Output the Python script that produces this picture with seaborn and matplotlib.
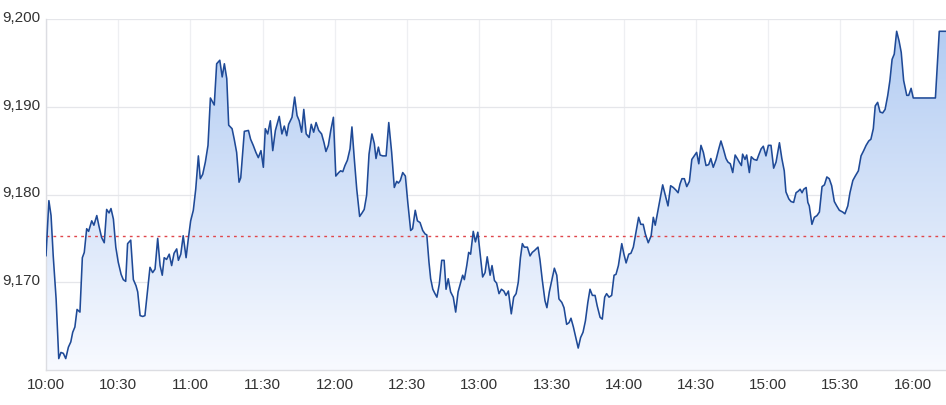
import numpy as np
import pandas as pd
import matplotlib
matplotlib.use("Agg")
import matplotlib.pyplot as plt
import seaborn as sns
from matplotlib.colors import LinearSegmentedColormap
from matplotlib.transforms import ScaledTranslation

# minutes after 10:00 and traded price
minutes = [
    0.0, 1.2, 2.1, 3.0, 4.2, 5.3, 6.2, 7.2, 8.2, 9.3, 10.3, 11.1, 12.0, 12.9, 14.1,
    15.1, 15.9, 16.9, 17.7, 19.0, 19.9, 21.1, 22.0, 23.1, 24.2, 25.2, 26.2, 27.0, 28.0,
    29.0, 30.0, 31.2, 32.1, 33.1, 33.9, 35.2, 36.3, 37.4, 38.1, 39.1, 40.2, 41.1, 42.3,
    43.2, 44.3, 45.3, 46.4, 47.4, 48.3, 49.1, 50.1, 51.2, 52.2, 53.2, 54.3, 55.0, 56.0,
    57.0, 58.2, 59.1, 60.1, 61.2, 62.2, 63.3, 64.1, 65.1, 66.2, 67.3, 68.3, 69.9, 70.9,
    72.2, 73.2, 74.1, 75.1, 75.9, 77.3, 78.2, 79.2, 80.2, 80.9, 82.4, 84.1, 85.0, 86.1,
    87.2, 88.2, 89.3, 90.3, 91.1, 92.1, 93.2, 94.2, 95.3, 96.9, 98.0, 99.0, 100.0, 100.8,
    102.2, 103.3, 104.3, 105.2, 106.2, 107.1, 108.1, 109.3, 110.2, 111.2, 112.2, 113.3,
    114.5, 115.5, 116.3, 117.3, 118.3, 119.4, 120.4, 121.6, 122.4, 123.3, 124.2, 125.2,
    126.3, 127.1, 128.1, 129.1, 130.3, 131.3, 132.2, 133.2, 134.2, 135.4, 136.4, 137.1,
    138.1, 138.8, 139.9, 141.3, 142.4, 143.6, 144.7, 145.7, 146.4, 147.2, 148.2, 149.3,
    150.3, 151.5, 152.3, 153.4, 154.3, 155.4, 156.5, 157.5, 158.2, 159.1, 159.8, 160.7,
    161.6, 162.4, 163.4, 164.4, 165.4, 166.2, 167.1, 168.1, 169.2, 170.2, 171.2, 172.1,
    173.1, 173.8, 174.8, 175.6, 176.4, 177.5, 178.4, 179.4, 180.3, 181.4, 182.4, 183.3,
    184.5, 185.3, 186.3, 187.2, 188.2, 189.2, 190.2, 191.1, 192.1, 193.3, 194.3, 195.3,
    196.2, 197.1, 197.9, 198.7, 200.0, 201.1, 202.0, 202.9, 204.4, 205.2, 206.2, 207.3,
    208.1, 209.1, 210.1, 211.2, 212.2, 213.1, 214.3, 215.2, 216.3, 217.3, 218.1, 219.1,
    220.1, 221.1, 222.1, 223.1, 224.1, 225.1, 226.0, 227.0, 228.1, 229.0, 230.2, 231.1,
    232.1, 232.9, 233.9, 235.0, 236.0, 236.8, 237.8, 239.2, 240.1, 241.0, 242.1, 243.0,
    244.0, 245.1, 246.2, 247.1, 248.1, 249.0, 250.2, 251.4, 252.3, 253.1, 254.1, 255.1,
    256.2, 257.3, 258.4, 259.5, 260.6, 261.7, 262.6, 263.4, 264.2, 265.2, 266.2, 267.3,
    268.3, 269.3, 270.3, 271.2, 272.1, 273.1, 274.2, 275.3, 276.2, 277.2, 278.4, 279.5,
    280.4, 281.4, 282.5, 283.3, 284.3, 285.3, 286.3, 287.2, 288.0, 288.9, 289.4, 290.4,
    291.1, 292.2, 293.0, 294.1, 295.3, 296.1, 297.1, 298.0, 299.1, 300.1, 301.2, 302.3,
    303.3, 304.7, 305.7, 306.7, 307.4, 308.6, 309.5, 310.6, 311.6, 312.6, 313.3, 314.1,
    314.8, 315.8, 316.5, 317.1, 318.2, 319.2, 320.3, 321.3, 322.4, 323.4, 324.4, 325.4,
    326.4, 327.5, 328.5, 329.6, 331.0, 331.9, 333.1, 334.0, 335.2, 336.2, 337.5, 338.6,
    339.7, 340.7, 341.8, 342.7, 343.7, 344.5, 345.5, 346.5, 347.6, 348.6, 349.7, 350.6,
    351.5, 352.4, 353.4, 354.4, 355.3, 356.3, 357.6, 358.4, 359.4, 360.3, 369.5, 371.1,
    373.9,
]
prices = [
    9173.0, 9179.3, 9177.6, 9173.0, 9168.1, 9161.3, 9162.0, 9161.9, 9161.3, 9162.6, 9163.2,
    9164.3, 9164.9, 9166.9, 9166.6, 9172.8, 9173.4, 9176.1, 9175.8, 9177.0, 9176.5, 9177.6,
    9176.4, 9175.1, 9174.5, 9178.3, 9177.9, 9178.4, 9177.2, 9174.0, 9172.3, 9170.9, 9170.3,
    9170.1, 9174.4, 9174.8, 9170.3, 9169.6, 9168.9, 9166.2, 9166.1, 9166.2, 9169.4, 9171.7,
    9171.1, 9171.5, 9175.0, 9171.9, 9170.8, 9172.8, 9172.6, 9173.2, 9171.9, 9173.3, 9173.8,
    9172.5, 9173.2, 9175.3, 9172.8, 9174.9, 9177.0, 9178.2, 9180.6, 9184.4, 9181.8, 9182.3,
    9183.7, 9185.6, 9191.0, 9190.2, 9194.9, 9195.3, 9193.4, 9194.9, 9193.2, 9187.9, 9187.5,
    9186.3, 9184.8, 9181.4, 9181.9, 9187.2, 9187.3, 9186.3, 9185.6, 9184.8, 9184.2, 9185.0,
    9183.1, 9187.5, 9186.9, 9188.4, 9185.0, 9187.3, 9188.9, 9186.9, 9187.8, 9186.7, 9188.0,
    9188.8, 9191.1, 9189.0, 9188.4, 9187.1, 9189.7, 9186.9, 9186.5, 9188.0, 9187.1, 9188.2,
    9187.3, 9186.9, 9185.9, 9184.9, 9185.6, 9187.3, 9188.8, 9182.1, 9182.5, 9182.7, 9182.6,
    9183.3, 9183.9, 9185.2, 9187.7, 9184.0, 9180.6, 9177.5, 9177.9, 9178.3, 9179.9, 9184.6,
    9186.9, 9185.8, 9184.1, 9185.4, 9184.5, 9184.4, 9184.4, 9188.2, 9184.8, 9180.8, 9181.5,
    9181.3, 9181.6, 9182.5, 9182.1, 9179.1, 9175.9, 9176.1, 9178.2, 9177.0, 9176.8, 9175.9,
    9175.5, 9175.4, 9172.3, 9170.4, 9169.2, 9168.7, 9168.3, 9169.8, 9172.5, 9172.5, 9169.2,
    9170.4, 9168.9, 9168.3, 9166.6, 9168.9, 9169.8, 9170.8, 9170.3, 9171.9, 9173.4, 9173.2,
    9175.8, 9174.6, 9175.7, 9173.4, 9170.6, 9171.1, 9172.9, 9170.8, 9171.9, 9170.2, 9169.9,
    9168.7, 9169.2, 9169.0, 9168.5, 9169.0, 9166.4, 9168.3, 9168.7, 9170.0, 9172.8, 9174.4,
    9174.0, 9174.0, 9173.0, 9173.4, 9173.6, 9174.0, 9172.6, 9170.2, 9167.9, 9167.1, 9168.9,
    9170.2, 9171.6, 9170.8, 9168.1, 9167.7, 9167.1, 9165.2, 9165.4, 9165.9, 9164.9, 9163.7,
    9162.5, 9163.7, 9164.3, 9165.6, 9167.7, 9169.2, 9168.5, 9168.5, 9167.3, 9166.0, 9165.8,
    9168.3, 9168.7, 9168.3, 9168.5, 9170.8, 9170.9, 9171.9, 9174.4, 9173.2, 9172.2, 9173.2,
    9173.3, 9174.0, 9175.7, 9177.4, 9176.6, 9176.6, 9175.5, 9174.5, 9175.3, 9177.4, 9176.5,
    9178.0, 9179.5, 9181.1, 9179.9, 9178.7, 9181.0, 9180.8, 9180.5, 9180.2, 9181.2, 9181.8,
    9181.8, 9180.9, 9181.5, 9184.0, 9184.4, 9184.8, 9183.5, 9185.6, 9184.8, 9183.3, 9183.4,
    9184.1, 9183.1, 9184.0, 9185.2, 9186.1, 9185.2, 9184.1, 9183.7, 9183.5, 9182.5, 9184.5,
    9184.1, 9183.7, 9183.3, 9184.6, 9184.0, 9184.5, 9182.5, 9184.3, 9184.0, 9183.9, 9184.5,
    9185.2, 9185.5, 9184.4, 9185.6, 9185.6, 9183.0, 9183.7, 9185.9, 9184.1, 9182.7, 9180.3,
    9179.5, 9179.2, 9179.1, 9180.2, 9180.4, 9180.6, 9180.2, 9180.6, 9180.8, 9179.1, 9178.7,
    9176.6, 9177.4, 9177.6, 9178.0, 9180.9, 9181.1, 9182.0, 9181.8, 9181.0, 9179.2, 9178.7,
    9178.2, 9178.0, 9177.8, 9178.7, 9180.2, 9181.6, 9182.1, 9182.7, 9184.4, 9185.0, 9185.6,
    9186.1, 9186.3, 9187.5, 9190.1, 9190.5, 9189.4, 9189.3, 9189.7, 9191.3, 9193.0, 9195.4,
    9196.0, 9198.6, 9197.5, 9196.2, 9193.0, 9191.3, 9191.3, 9192.1, 9191.0, 9191.0, 9198.6,
    9198.6,
]
prev_close = 9175.3

tick_minutes = [0, 30, 60, 90, 120, 150, 180, 210, 240, 270, 300, 330, 360]
tick_labels = ["10:00", "10:30", "11:00", "11:30", "12:00", "12:30", "13:00",
               "13:30", "14:00", "14:30", "15:00", "15:30", "16:00"]
y_ticks = [9170, 9180, 9190, 9200]

df = pd.DataFrame({"minute": minutes, "price": prices})

sns.set_style("white")
plt.rcParams["font.family"] = ["Liberation Sans", "DejaVu Sans"]

fig = plt.figure(figsize=(9.46, 4.06), dpi=100)
ax = fig.add_axes([46 / 946, 35 / 406, 900 / 946, 351 / 406])

x0, x1 = 0, 373.9
y0, y1 = 9160, 9200

# gradient fill under the line, clipped to the area polygon
area = ax.fill_between(df["minute"], df["price"], y0, color="none", lw=0)
cmap = LinearSegmentedColormap.from_list("fade", ["#f8faff", "#b1cbf2"])
grad = np.linspace(0, 1, 256).reshape(-1, 1)
img = ax.imshow(grad, extent=[x0, x1, y0, y1], origin="lower", cmap=cmap,
                aspect="auto", zorder=1)
img.set_clip_path(area.get_paths()[0], transform=ax.transData)

sns.lineplot(data=df, x="minute", y="price", ax=ax, color="#1f4a97", lw=1.15, zorder=3)
ax.axhline(prev_close, color="#e0474c", ls=(0, (2, 3)), lw=1.0, zorder=2)

ax.set_xlim(x0, x1)
ax.set_ylim(y0, y1)
ax.set_xticks(tick_minutes, labels=tick_labels)
ax.set_yticks(y_ticks, labels=[f"{v:,}" for v in y_ticks])
ax.set_xlabel("")
ax.set_ylabel("")

for v in tick_minutes:
    ax.axvline(v, color="#eeeff2", lw=0.9, zorder=0)
for v in y_ticks:
    ax.axhline(v, color="#e5e6ea", lw=0.9, zorder=0)

for s in ["top", "right"]:
    ax.spines[s].set_visible(False)
for s in ["left", "bottom"]:
    ax.spines[s].set_color("#dcdde2")
    ax.spines[s].set_linewidth(1.0)

ax.tick_params(axis="both", length=0, labelsize=11, colors="#333333")
ax.tick_params(axis="x", pad=5)
ax.tick_params(axis="y", pad=0)
lift = ScaledTranslation(0, 2 / 100, fig.dpi_scale_trans)
for lab in ax.get_yticklabels():
    lab.set_horizontalalignment("left")
    lab.set_verticalalignment("center")
    lab.set_x(-44 / 900)
    lab.set_transform(lab.get_transform() + lift)

fig.savefig("out.png", dpi=100)
